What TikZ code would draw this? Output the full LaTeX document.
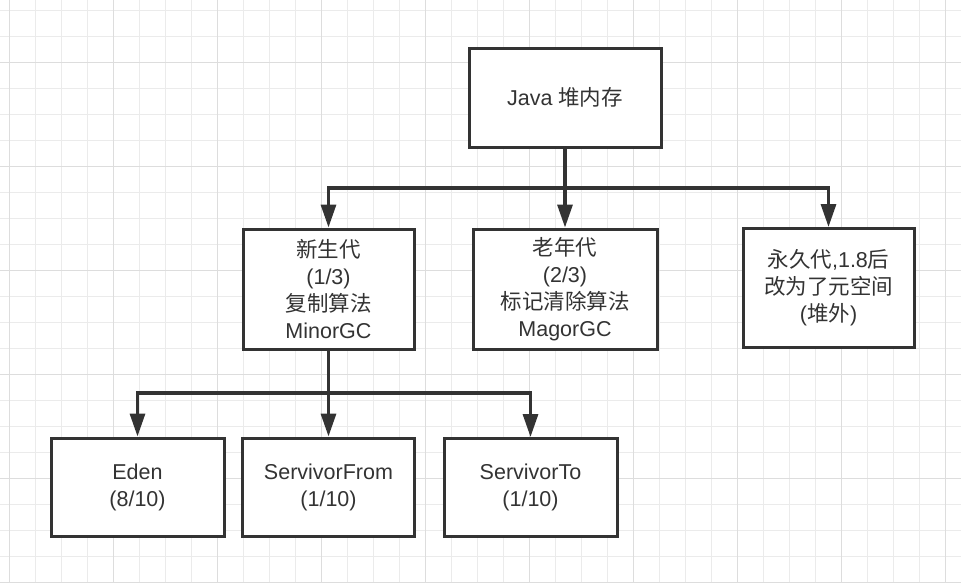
\documentclass[tikz,border=0pt]{standalone}
\usepackage{fontspec}
\setmainfont{Liberation Sans}
\newfontfamily\cjk{Noto Sans CJK SC}
\usetikzlibrary{arrows.meta}
\definecolor{ink}{HTML}{333333}
\definecolor{gridminor}{HTML}{EBEBEB}
\definecolor{gridmajor}{HTML}{DDDDDD}
\tikzset{
  block/.style={draw=ink,line width=3pt,fill=white,text=ink,align=center,inner sep=0pt,
    font=\fontsize{21.5}{27}\selectfont},
  link/.style={draw=ink,line width=3.2pt},
}

\begin{document}
\begin{tikzpicture}[x=1pt,y=-1pt,>={Triangle[length=23pt,width=15pt]}]
\useasboundingbox (0,0) rectangle (961,582);
% grid
\foreach \gx in {0,...,36} \draw[gridminor,line width=1pt] ({9+26*\gx},0) -- ({9+26*\gx},582);
\foreach \gy in {0,...,22} \draw[gridminor,line width=1pt] (0,{10+26*\gy}) -- (961,{10+26*\gy});
\foreach \gx in {0,...,9} \draw[gridmajor,line width=1pt] ({9+104*\gx},0) -- ({9+104*\gx},582);
\foreach \gy in {0,...,5} \draw[gridmajor,line width=1pt] (0,{62+104*\gy}) -- (961,{62+104*\gy});

\node[block,minimum width=192pt,minimum height=99pt] (java) at (565,97.5) {Java {\cjk 堆内存}};
\node[block,minimum width=171pt,minimum height=120pt] (young) at (328.5,289) {{\cjk 新生代}\\(1/3)\\{\cjk 复制算法}\\MinorGC};
\node[block,minimum width=184pt,minimum height=120pt] (old) at (565,289) {{\cjk 老年代}\\(2/3)\\{\cjk 标记清除算法}\\MagorGC};
\node[block,minimum width=171pt,minimum height=119pt] (perm) at (828.5,288) {{\cjk 永久代},1.8{\cjk 后}\\{\cjk 改为了元空间}\\({\cjk 堆外})};
\node[block,minimum width=173pt,minimum height=98pt] (eden) at (137.5,487) {Eden\\(8/10)};
\node[block,minimum width=172pt,minimum height=98pt] (surv_from) at (328.5,487) {ServivorFrom\\(1/10)};
\node[block,minimum width=173pt,minimum height=98pt] (surv_to) at (530.5,487.5) {ServivorTo\\(1/10)};

\coordinate (split) at (565,188);
\coordinate (split_young) at (328.5,393);
\draw[link] (java) -- (split);
\draw[link,->] (split) -| (young.north);
\draw[link,->] (split) -- (old.north);
\draw[link,->] (split) -| (perm.north);
\draw[link] (young) -- (split_young);
\draw[link,->] (split_young) -| (eden.north);
\draw[link,->] (split_young) -- (surv_from.north);
\draw[link,->] (split_young) -| (surv_to.north);
\end{tikzpicture}
\end{document}
